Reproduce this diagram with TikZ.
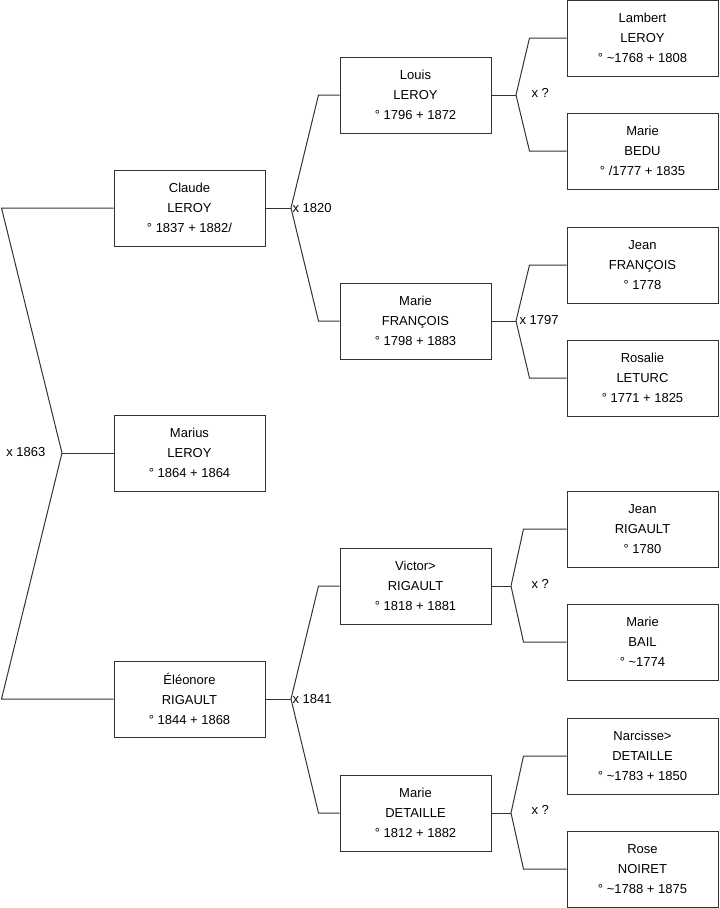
\documentclass[tikz,border=0pt]{standalone}
\usepackage{fontspec}
\setmainfont{Liberation Sans}

\begin{document}
\begin{tikzpicture}[
  x=0.75pt, y=-0.75pt,
  person/.style={
    rectangle,
    draw=black!80,
    line width=0.75pt,
    align=center,
    minimum width=113.25pt,
    minimum height=57pt,
    inner sep=0pt,
    font=\fontsize{9.75pt}{15pt}\selectfont
  },
  union/.style={inner sep=1pt, font=\fontsize{9.75pt}{15pt}\selectfont},
  link/.style={draw=black!80, line width=0.75pt}
]
\useasboundingbox (0,0) rectangle (719,908);

% generation 1 and 2
\node[person] (claude) at (189.5,208) {Claude\\LEROY\\° 1837 + 1882/};
\node[person] (marius) at (189.5,453) {Marius\\LEROY\\° 1864 + 1864};
\node[person] (eleonore) at (189.5,699) {Éléonore\\RIGAULT\\° 1844 + 1868};

% generation 3
\node[person] (louis) at (415.5,95) {Louis\\LEROY\\° 1796 + 1872};
\node[person] (mariefr) at (415.5,321) {Marie\\FRANÇOIS\\° 1798 + 1883};
\node[person] (victor) at (415.5,586) {Victor>\\RIGAULT\\° 1818 + 1881};
\node[person] (mariedt) at (415.5,813) {Marie\\DETAILLE\\° 1812 + 1882};

% generation 4
\node[person] (lambert) at (642.5,38) {Lambert\\LEROY\\° \textasciitilde1768 + 1808};
\node[person] (mariebd) at (642.5,151) {Marie\\BEDU\\° /1777 + 1835};
\node[person] (jeanfr) at (642.5,265) {Jean\\FRANÇOIS\\° 1778};
\node[person] (rosalie) at (642.5,378) {Rosalie\\LETURC\\° 1771 + 1825};
\node[person] (jeanrg) at (642.5,529) {Jean\\RIGAULT\\° 1780};
\node[person] (mariebl) at (642.5,642) {Marie\\BAIL\\° \textasciitilde1774};
\node[person] (narcisse) at (642.5,756) {Narcisse>\\DETAILLE\\° \textasciitilde1783 + 1850};
\node[person] (rose) at (642.5,869) {Rose\\NOIRET\\° \textasciitilde1788 + 1875};

% forks
\coordinate (k0) at (62,453);
\coordinate (k1) at (291,208);
\coordinate (k2) at (291,699);
\coordinate (k3) at (516,95);
\coordinate (k4) at (516,321);
\coordinate (k5) at (511,586);
\coordinate (k6) at (511,813);

\node[union, anchor=east] (u0) at (47,452) {x 1863};
\node[union, anchor=west] (u1) at (291,208) {x 1820};
\node[union, anchor=west] (u2) at (291,699) {x 1841};
\node[union, anchor=west] (u3) at (530,93) {x ?};
\node[union, anchor=west] (u4) at (518,320) {x 1797};
\node[union, anchor=west] (u5) at (530,584) {x ?};
\node[union, anchor=west] (u6) at (530,810) {x ?};

\draw[link] (marius.west) -- (k0);
\draw[link] (claude.west) -- ++(-112,0) -- (k0);
\draw[link] (eleonore.west) -- ++(-112,0) -- (k0);

\draw[link] (claude.east) -- (k1);
\draw[link] (louis.west) -- ++(-21,0) -- (k1);
\draw[link] (mariefr.west) -- ++(-21,0) -- (k1);

\draw[link] (eleonore.east) -- (k2);
\draw[link] (victor.west) -- ++(-21,0) -- (k2);
\draw[link] (mariedt.west) -- ++(-21,0) -- (k2);

\draw[link] (louis.east) -- (k3);
\draw[link] (lambert.west) -- ++(-37,0) -- (k3);
\draw[link] (mariebd.west) -- ++(-37,0) -- (k3);

\draw[link] (mariefr.east) -- (k4);
\draw[link] (jeanfr.west) -- ++(-37,0) -- (k4);
\draw[link] (rosalie.west) -- ++(-37,0) -- (k4);

\draw[link] (victor.east) -- (k5);
\draw[link] (jeanrg.west) -- ++(-43,0) -- (k5);
\draw[link] (mariebl.west) -- ++(-43,0) -- (k5);

\draw[link] (mariedt.east) -- (k6);
\draw[link] (narcisse.west) -- ++(-43,0) -- (k6);
\draw[link] (rose.west) -- ++(-43,0) -- (k6);
\end{tikzpicture}
\end{document}
